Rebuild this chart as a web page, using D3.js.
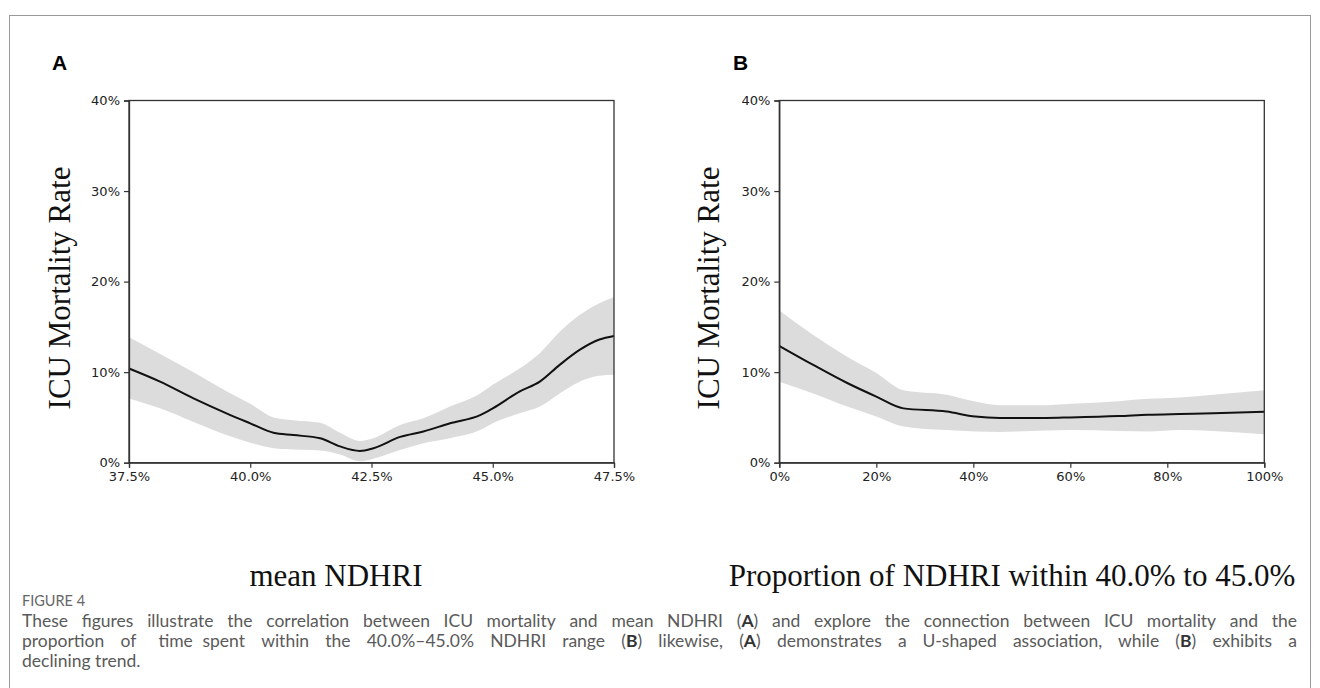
<!DOCTYPE html>
<html>
<head>
<meta charset="utf-8">
<script src="https://cdn.jsdelivr.net/npm/d3@7"></script>
<style>
  html, body { margin: 0; padding: 0; background: #fff; }
  svg { display: block; }
</style>
</head>
<body>
<div id="chart"></div>
<script>
var W = 1320, H = 688;

// panel A: mean NDHRI (%) vs ICU mortality (%)
var aX     = [37.5, 38.14, 38.83, 39.51, 40.0, 40.48, 40.89, 41.44, 41.85, 42.26, 42.54, 43.09, 43.57, 44.12, 44.74, 45.0, 45.55, 45.97, 46.38, 46.79, 47.2, 47.5];
var aMid   = [10.4, 8.95, 7.1, 5.45, 4.35, 3.3, 3.05, 2.7, 1.8, 1.3, 1.6, 2.85, 3.45, 4.35, 5.25, 6.0, 7.85, 8.95, 10.8, 12.45, 13.6, 14.0];
var aUpper = [13.85, 12.0, 10.0, 7.9, 6.5, 5.0, 4.7, 4.4, 3.3, 2.4, 2.7, 4.15, 4.9, 6.2, 7.65, 8.6, 10.4, 12.1, 14.45, 16.3, 17.6, 18.3];
var aLower = [7.1, 6.0, 4.5, 3.05, 2.2, 1.6, 1.45, 1.35, 0.9, 0.15, 0.45, 1.4, 2.15, 2.7, 3.6, 4.35, 5.45, 6.2, 7.65, 8.95, 9.6, 9.7];

// panel B: proportion of NDHRI within 40-45% (%) vs ICU mortality (%)
var bX     = [0, 7, 14, 20, 25.6, 34.5, 40.4, 45.5, 55, 60, 70, 76, 82.6, 89.5, 100];
var bMid   = [12.9, 10.8, 8.8, 7.3, 6.0, 5.65, 5.1, 4.95, 4.95, 5.0, 5.15, 5.3, 5.38, 5.45, 5.64];
var bUpper = [16.8, 14.1, 11.7, 9.9, 8.0, 7.5, 6.75, 6.35, 6.35, 6.5, 6.8, 7.05, 7.2, 7.5, 8.0];
var bLower = [8.95, 7.65, 6.2, 5.1, 4.0, 3.6, 3.45, 3.4, 3.55, 3.6, 3.5, 3.45, 3.6, 3.5, 3.15];

var yTicks = [0, 10, 20, 30, 40];
var aTicks = [37.5, 40, 42.5, 45, 47.5];
var bTicks = [0, 20, 40, 60, 80, 100];

var captionTitle = "FIGURE 4";
var captionLines = [
  "These figures illustrate the correlation between ICU mortality and mean NDHRI (A) and explore the connection between ICU mortality and the",
  "proportion of time spent within the 40.0%\u201345.0% NDHRI range (B) likewise, (A) demonstrates a U-shaped association, while (B) exhibits a",
  "declining trend."
];

var svg = d3.select("#chart").append("svg").attr("width", W).attr("height", H);
svg.append("rect").attr("width", W).attr("height", H).attr("fill", "#fff");

// outer figure frame
svg.append("rect")
  .attr("x", 9.5).attr("y", 15.5).attr("width", 1301).attr("height", 700)
  .attr("fill", "none").attr("stroke", "#9a9a9a").attr("stroke-width", 1);

function panel(opts) {
  var g = svg.append("g");
  var x = d3.scaleLinear().domain(opts.domain).range([opts.left, opts.right]);
  var y = d3.scaleLinear().domain([0, 40]).range([462.7, 100.5]);

  var idx = d3.range(opts.xs.length);
  var area = d3.area()
    .x(function(i){ return x(opts.xs[i]); })
    .y0(function(i){ return y(opts.lower[i]); })
    .y1(function(i){ return y(opts.upper[i]); })
    .curve(d3.curveMonotoneX);
  var line = d3.line()
    .x(function(i){ return x(opts.xs[i]); })
    .y(function(i){ return y(opts.mid[i]); })
    .curve(d3.curveMonotoneX);

  g.append("path").datum(idx).attr("d", area).attr("fill", "#dcdcdc");
  g.append("path").datum(idx).attr("d", line)
    .attr("fill", "none").attr("stroke", "#111").attr("stroke-width", 2);

  // frame
  g.append("rect")
    .attr("x", opts.left).attr("y", y(40))
    .attr("width", opts.right - opts.left).attr("height", y(0) - y(40))
    .attr("fill", "none").attr("stroke", "#333").attr("stroke-width", 1.3);

  var yAxis = g.append("g").attr("transform", "translate(" + opts.left + ",0)")
    .call(d3.axisLeft(y).tickValues(yTicks).tickSize(5).tickPadding(4)
      .tickFormat(function(d){ return d + "%"; }));
  var xAxis = g.append("g").attr("transform", "translate(0," + y(0) + ")")
    .call(d3.axisBottom(x).tickValues(opts.ticks).tickSize(5).tickPadding(4)
      .tickFormat(opts.fmt));
  [yAxis, xAxis].forEach(function(ax){
    ax.select(".domain").attr("stroke", "#333").attr("stroke-width", 1.3);
    ax.selectAll(".tick line").attr("stroke", "#333").attr("stroke-width", 1.2);
    ax.selectAll(".tick text").attr("fill", "#222")
      .style("font-family", "DejaVu Sans, sans-serif").style("font-size", "13px");
  });

  // panel letter
  g.append("text").attr("x", opts.letterX).attr("y", 70)
    .style("font-family", "Liberation Sans, Arial, sans-serif")
    .style("font-weight", "bold").style("font-size", "21px").attr("fill", "#000")
    .text(opts.letter);

  // y title
  g.append("text")
    .attr("transform", "translate(" + opts.yTitleX + ",288) rotate(-90)")
    .attr("text-anchor", "middle")
    .style("font-family", "Liberation Serif, 'Times New Roman', serif")
    .style("font-size", "31px").attr("fill", "#111")
    .text("ICU Mortality Rate");

  // x title
  g.append("text")
    .attr("x", opts.xTitleX).attr("y", 586)
    .attr("text-anchor", "middle")
    .style("font-family", "Liberation Serif, 'Times New Roman', serif")
    .style("font-size", "31px").attr("fill", "#111")
    .text(opts.xTitle);
}

panel({
  domain: [37.5, 47.5], left: 129, right: 614,
  xs: aX, mid: aMid, upper: aUpper, lower: aLower,
  ticks: aTicks, fmt: function(d){ return d3.format(".1f")(d) + "%"; },
  letter: "A", letterX: 52, yTitleX: 70, xTitleX: 336, xTitle: "mean NDHRI"
});
panel({
  domain: [0, 100], left: 779.3, right: 1264.3,
  xs: bX, mid: bMid, upper: bUpper, lower: bLower,
  ticks: bTicks, fmt: function(d){ return d + "%"; },
  letter: "B", letterX: 733, yTitleX: 719, xTitleX: 1012,
  xTitle: "Proportion of NDHRI within 40.0% to 45.0%"
});

// caption
var capFont = "Lato, 'Noto Sans', sans-serif";
svg.append("text").attr("x", 22).attr("y", 606)
  .style("font-family", capFont).style("font-size", "14.5px").attr("fill", "#666")
  .text(captionTitle);

var capLeft = 22, capRight = 1297, capSize = 17.5;
function splitWord(w) {
  var m = w.match(/^(.*)\(([AB])\)(.*)$/);
  if (!m) return [{t: w, b: false}];
  return [{t: m[1] + "(", b: false}, {t: m[2], b: true}, {t: ")" + m[3], b: false}];
}
captionLines.forEach(function(ln, li) {
  var words = ln.split(" ");
  var t = svg.append("text").attr("y", 627 + li * 20)
    .style("font-family", capFont).style("font-size", capSize + "px").attr("fill", "#5a5a5a");
  var spans = words.map(function(w) {
    var ws = t.append("tspan");
    splitWord(w).forEach(function(p) {
      ws.append("tspan").style("font-weight", p.b ? "bold" : "normal")
        .attr("fill", p.b ? "#333" : "#5a5a5a").text(p.t);
    });
    return ws;
  });
  var widths = spans.map(function(s){ return s.node().getComputedTextLength(); });
  var total = d3.sum(widths);
  var gap = li < captionLines.length - 1
    ? (capRight - capLeft - total) / (words.length - 1)
    : capSize * 0.26;
  var cx = capLeft;
  spans.forEach(function(s, i) {
    s.attr("x", cx);
    cx += widths[i] + gap;
  });
});
</script>
</body>
</html>
